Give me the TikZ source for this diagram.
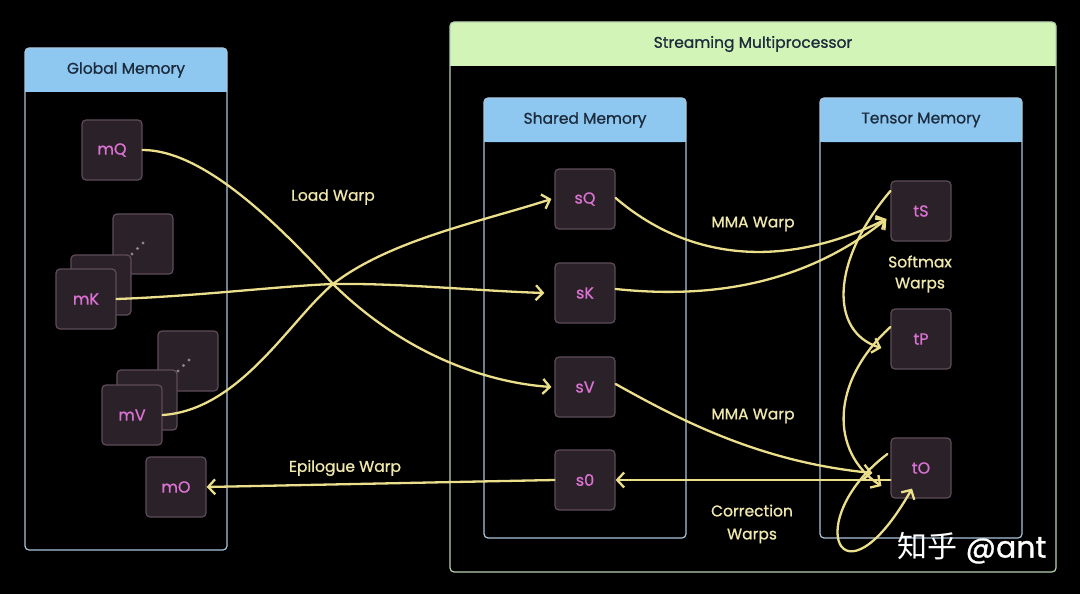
\documentclass[tikz,border=0pt]{standalone}
\usepackage{fontspec}
\setmainfont{Poppins}[FakeBold=0.9]
\newfontfamily\cjkfont{Noto Sans CJK SC}
\usetikzlibrary{arrows.meta}
\definecolor{bluehead}{HTML}{8EC8F0}
\definecolor{blueline}{HTML}{A9C6DC}
\definecolor{greenhead}{HTML}{D2F4B6}
\definecolor{greenline}{HTML}{B9D3B2}
\definecolor{headtext}{HTML}{1C2B3C}
\definecolor{nodefill}{HTML}{2B2129}
\definecolor{nodeline}{HTML}{5E4C5A}
\definecolor{nodetext}{HTML}{DA72D2}
\definecolor{arrowc}{HTML}{ECDF8C}
\definecolor{labelc}{HTML}{F0E8AC}
\tikzset{
  x=1pt, y=-1pt,
  panel/.style={draw=#1, line width=1.2pt, rounded corners=4pt},
  mem/.style={draw=nodeline, fill=nodefill, line width=1.2pt, rounded corners=4pt,
    minimum width=60pt, minimum height=60pt, inner sep=0pt,
    text=nodetext, font=\fontsize{16}{18}\selectfont},
  ghost/.style={draw=nodeline, fill=nodefill, line width=1.2pt, rounded corners=4pt,
    minimum width=60pt, minimum height=60pt, inner sep=0pt},
  headlbl/.style={text=headtext, font=\fontsize{15.5}{18}\selectfont},
  warplbl/.style={text=labelc, font=\fontsize{15.5}{23}\selectfont, align=center},
  flow/.style={draw=arrowc, line width=2.3pt, line cap=round,
    -{Straight Barb[length=7pt,width=15pt,line width=2.3pt]}},
  dotc/.style={fill=nodeline!70!white, draw=none}
}
\begin{document}
\begin{tikzpicture}
\useasboundingbox[fill=black] (0,0) rectangle (1080,594);

% ---- Global Memory panel
\fill[bluehead, rounded corners=4pt] (25,48) rectangle (227,92);
\fill[bluehead] (25,80) rectangle (227,92);
\draw[panel=blueline] (25,48) rectangle (227,550);
\node[headlbl] (gmh) at (126,70) {Global Memory};

% ---- Streaming Multiprocessor panel
\fill[greenhead, rounded corners=5pt] (450,22) rectangle (1056,66);
\fill[greenhead] (450,55) rectangle (1056,66);
\draw[panel=greenline] (450,22) rectangle (1056,572);
\node[headlbl] (smh) at (753,44) {Streaming Multiprocessor};

% ---- Shared Memory panel
\fill[bluehead, rounded corners=4pt] (484,98) rectangle (686,142);
\fill[bluehead] (484,130) rectangle (686,142);
\draw[panel=blueline] (484,98) rectangle (686,538);
\node[headlbl] (shh) at (585,120) {Shared Memory};

% ---- Tensor Memory panel
\fill[bluehead, rounded corners=4pt] (820,98) rectangle (1022,142);
\fill[bluehead] (820,130) rectangle (1022,142);
\draw[panel=blueline] (820,98) rectangle (1022,538);
\node[headlbl] (tmh) at (921,120) {Tensor Memory};

% ---- Global memory nodes
\node[mem] (mQ) at (112,150) {mQ};

\node[ghost] (mKb) at (143,244) {};
\fill[dotc] (132,254) circle (1.6pt) (137.5,248.5) circle (1.6pt) (143,243) circle (1.6pt);
\node[ghost] (mKm) at (101,285) {};
\node[mem] (mK) at (86,299) {mK};

\node[ghost] (mVb) at (188,361) {};
\fill[dotc] (178,371) circle (1.6pt) (183.5,365.5) circle (1.6pt) (189,360) circle (1.6pt);
\node[ghost] (mVm) at (147,400) {};
\node[mem] (mV) at (132,415) {mV};

\node[mem] (mO) at (176,487) {mO};

% ---- Shared memory nodes
\node[mem] (sQ) at (585,199) {sQ};
\node[mem] (sK) at (585,293) {sK};
\node[mem] (sV) at (585,387) {sV};
\node[mem] (s0) at (585,480) {s0};

% ---- Tensor memory nodes
\node[mem] (tS) at (921,211) {tS};
\node[mem] (tP) at (921,339) {tP};
\node[mem] (tO) at (921,468) {tO};

% ---- Labels
\node[warplbl] (lw) at (333,197) {Load Warp};
\node[warplbl] (mma1) at (753,224) {MMA Warp};
\node[warplbl] (mma2) at (753,416) {MMA Warp};
\node[warplbl] (ew) at (345,468) {Epilogue Warp};
\node[warplbl] (cw) at (752,524) {Correction\\Warps};
\node[warplbl, font=\fontsize{15.5}{21}\selectfont] (sw) at (920,274) {Softmax\\Warps};

% ---- crossing point of load arrows
\coordinate (cx) at (333,284);

% ---- Load Warp arrows
\draw[flow] (mQ.east) .. controls (200,150) and (270,215) .. (cx)
  .. controls (400,350) and (480,382) .. ([xshift=-3pt]sV.west);
\draw[flow] (mK.east) .. controls (200,296) and (280,286) .. (cx)
  .. controls (400,283) and (480,291) .. ([xshift=-10pt]sK.west);
\draw[flow] (mV.east) .. controls (240,410) and (290,320) .. (cx)
  .. controls (390,240) and (480,222) .. ([xshift=-3pt]sQ.west);

% ---- MMA Warp arrows
\draw[flow] ([yshift=1pt]sQ.east) .. controls (700,270) and (800,262) .. ([xshift=-4pt,yshift=-8pt]tS.west);
\draw[flow] ([yshift=4pt]sK.east) .. controls (720,300) and (810,280) .. ([xshift=-4pt,yshift=-8pt]tS.west);
\draw[flow] ([yshift=3pt]sV.east) .. controls (680,420) and (760,462) .. ([xshift=-18pt,yshift=-5pt]tO.west);

% ---- Correction / epilogue arrows
\draw[flow] (tO.west |- s0.east) -- (s0.east);
\draw[flow] (s0.west) -- (mO.east);

% ---- Softmax arrows
\draw[flow] ([yshift=20pt]tS.west) .. controls (830,262) and (830,332) .. ([xshift=-9pt,yshift=-9pt]tP.west);
\draw[flow] ([yshift=12pt]tP.west) .. controls (830,382) and (830,452) .. ([xshift=-9pt,yshift=-18pt]tO.west);

% ---- Correction self loop
\draw[flow] ([xshift=-3pt,yshift=14pt]tO.west) .. controls (800,520) and (840,615) .. ([xshift=-9pt,yshift=10pt]tO.south);

% ---- watermark
\node[text=white, font=\fontsize{30}{34}\selectfont, anchor=center] (wm) at (972,548) {{\cjkfont 知乎} @ant};
\end{tikzpicture}
\end{document}
